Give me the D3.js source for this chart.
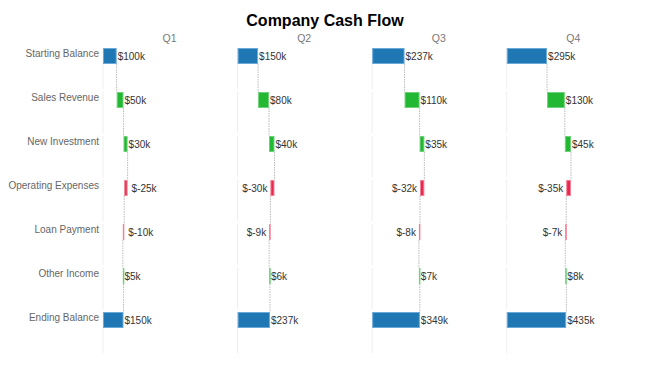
<!DOCTYPE html>
<html>
<head>
<meta charset="utf-8">
<script src="https://cdn.jsdelivr.net/npm/d3@7"></script>
<style>
  body { margin: 0; background: #fff; }
  svg { font-family: Arial, "Liberation Sans", sans-serif; }
</style>
</head>
<body>
<script>
WIDTH = 650;
HEIGHT = 373;

// data, in $k
var quarters = ["Q1", "Q2", "Q3", "Q4"];
var categories = ["Starting Balance", "Sales Revenue", "New Investment",
    "Operating Expenses", "Loan Payment", "Other Income", "Ending Balance"];
var startBalance = [100, 150, 237, 295];
var salesRevenue = [50, 80, 110, 130];
var newInvestment = [30, 40, 35, 45];
var operatingExpenses = [-25, -30, -32, -35];
var loanPayment = [-10, -9, -8, -7];
var otherIncome = [5, 6, 7, 8];
var endBalance = [150, 237, 349, 435];

var changes = [salesRevenue, newInvestment, operatingExpenses, loanPayment, otherIncome];

var COLORS = {
    total: {fill: "#1f77b4", stroke: "#6aaad9"},
    up: {fill: "#22b833", stroke: "#6fd27a"},
    down: {fill: "#e8294f", stroke: "#f28197"}
};

// build waterfall rows per quarter
function buildRows(qi) {
    var rows = [];
    var cum = startBalance[qi];
    rows.push({cat: categories[0], start: 0, end: cum, value: cum, kind: "total"});
    changes.forEach(function(arr, i) {
        var v = arr[qi];
        rows.push({cat: categories[i + 1], start: cum, end: cum + v, value: v, kind: v < 0 ? "down" : "up"});
        cum += v;
    });
    rows.push({cat: categories[6], start: 0, end: endBalance[qi], value: endBalance[qi], kind: "total"});
    return rows;
}

var svg = d3.select("body").append("svg")
    .attr("width", WIDTH)
    .attr("height", HEIGHT);

svg.append("text")
    .attr("x", WIDTH / 2)
    .attr("y", 26)
    .attr("text-anchor", "middle")
    .attr("font-size", 16)
    .attr("font-weight", "bold")
    .attr("fill", "#000")
    .text("Company Cash Flow");

var panel = d3.scaleBand()
    .domain(quarters)
    .range([103, 640])
    .paddingInner(0.01);

var y = d3.scaleBand()
    .domain(categories)
    .range([48, 356]);

var BAR_H = 16;

var x = d3.scaleLinear()
    .domain([0, 975])
    .range([0, panel.bandwidth()]);

// row labels
svg.append("g")
  .selectAll("text")
  .data(categories)
  .enter().append("text")
    .attr("x", 99)
    .attr("y", d => y(d) + 9)
    .attr("text-anchor", "end")
    .attr("font-size", 10)
    .attr("fill", "#666")
    .text(d => d);

var fmt = v => "$" + v + "k";

quarters.forEach(function(q, qi) {
    var rows = buildRows(qi);
    var g = svg.append("g")
        .attr("transform", "translate(" + panel(q) + ",0)");

    g.append("text")
        .attr("x", panel.bandwidth() / 2)
        .attr("y", 42)
        .attr("text-anchor", "middle")
        .attr("font-size", 10.5)
        .attr("fill", "#777")
        .text(q);

    // zero line segments per row
    g.selectAll(".grid")
        .data(categories)
        .enter().append("line")
        .attr("class", "grid")
        .attr("x1", x(0)).attr("x2", x(0))
        .attr("y1", d => y(d))
        .attr("y2", d => y(d) + y.step() - 3)
        .attr("stroke", "#eee");

    // connectors
    var links = rows.slice(0, -1).map((r, i) => ({x: rows[i].end, from: r.cat, to: rows[i + 1].cat}));
    g.selectAll(".link")
        .data(links)
        .enter().append("line")
        .attr("class", "link")
        .attr("x1", d => x(d.x)).attr("x2", d => x(d.x))
        .attr("y1", d => y(d.from) + BAR_H)
        .attr("y2", d => y(d.to))
        .attr("stroke", "#aaa")
        .attr("stroke-width", 0.8)
        .attr("stroke-dasharray", "1.5,1");

    g.selectAll(".bar")
        .data(rows)
        .enter().append("rect")
        .attr("class", "bar")
        .attr("x", d => x(Math.min(d.start, d.end)) + 0.5)
        .attr("y", d => y(d.cat) + 0.5)
        .attr("width", d => Math.max(Math.abs(x(d.end) - x(d.start)) - 1, 0.5))
        .attr("height", BAR_H - 1)
        .attr("fill", d => COLORS[d.kind].fill)
        .attr("stroke", d => COLORS[d.kind].stroke)
        .attr("stroke-width", 1);

    g.selectAll(".val")
        .data(rows)
        .enter().append("text")
        .attr("class", "val")
        .attr("y", d => y(d.cat) + BAR_H / 2 + 4)
        .attr("font-size", 10)
        .attr("fill", "#333")
        .text(d => fmt(d.value))
        .each(function(d) {
            var t = d3.select(this);
            var lo = x(Math.min(d.start, d.end)), hi = x(Math.max(d.start, d.end));
            var w = this.getComputedTextLength();
            if (d.kind === "down" && lo - 3 - w >= 0) {
                t.attr("x", lo - 3).attr("text-anchor", "end");
            } else if (d.kind === "down") {
                t.attr("x", hi + 4).attr("text-anchor", "start");
            } else {
                t.attr("x", hi + 1).attr("text-anchor", "start");
            }
        });
});
</script>
</body>
</html>
